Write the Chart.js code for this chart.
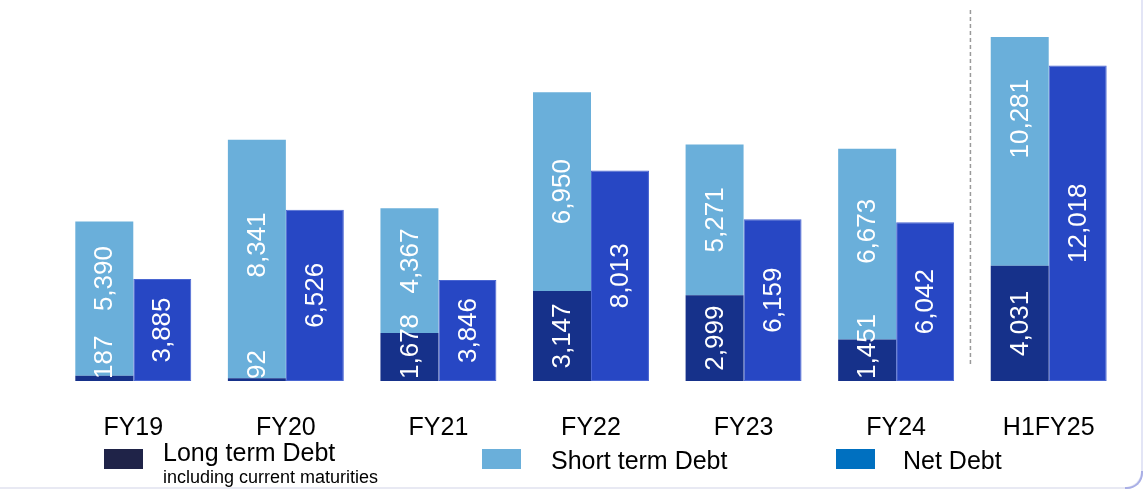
<!DOCTYPE html>
<html>
<head>
<meta charset="utf-8">
<script src="https://cdn.jsdelivr.net/npm/chart.js@4/dist/chart.umd.min.js"></script>
<style>
  html, body { margin:0; padding:0; background:#fff; }
  body { width:1143px; height:489px; position:relative; overflow:hidden; font-family:"Liberation Sans", Arial, sans-serif; }
  #wrap { position:absolute; left:0; top:0; width:1143px; height:489px; }
  .frame { position:absolute; left:-20px; top:-20px; width:1163px; height:509px; box-sizing:border-box;
           border:2px solid #e9ebf7; border-right-color:#e3e5f6; border-bottom-color:#e8e9f3; border-radius:18px; }
  .corner { position:absolute; right:0; bottom:0; width:18px; height:18px; box-sizing:border-box;
            border-right:2px solid #a9afe6; border-bottom:2px solid #a9afe6; border-bottom-right-radius:16px; }
  .sw { position:absolute; width:39px; height:20px; }
  .lt { position:absolute; color:#000; white-space:nowrap; line-height:1; }
</style>
</head>
<body>
<div class="frame"></div>
<div class="corner"></div>
<div id="wrap"><canvas id="c" width="1143" height="489"></canvas></div>

<div class="sw" style="left:104px;top:449px;background:#1F2348"></div>
<div class="lt" style="left:163px;top:440px;font-size:25px">Long term Debt</div>
<div class="lt" style="left:163px;top:468px;font-size:18px">including current maturities</div>

<div class="sw" style="left:482px;top:449px;background:#6AAFDA"></div>
<div class="lt" style="left:551px;top:448px;font-size:25px">Short term Debt</div>

<div class="sw" style="left:836px;top:449px;background:#0070C0"></div>
<div class="lt" style="left:903px;top:448px;font-size:25px">Net Debt</div>

<script>
const categories = ['FY19', 'FY20', 'FY21', 'FY22', 'FY23', 'FY24', 'H1FY25'];
const longTermDebt = [187, 92, 1678, 3147, 2999, 1451, 4031];
const shortTermDebt = [5390, 8341, 4367, 6950, 5271, 6673, 10281];
const netDebt = [3885, 6526, 3846, 8013, 6159, 6042, 12018];
const seriesNames = ['Long term Debt', 'Short term Debt', 'Net Debt'];

const FONT = '"Liberation Sans", Arial, sans-serif';

const valueLabels = {
  id: 'valueLabels',
  afterDatasetsDraw(chart) {
    const ctx = chart.ctx;
    ctx.save();
    ctx.font = '26px ' + FONT;
    ctx.fillStyle = '#ffffff';
    ctx.textAlign = 'center';
    ctx.textBaseline = 'middle';
    const ltTop = [];
    chart.data.datasets.forEach((ds, i) => {
      const meta = chart.getDatasetMeta(i);
      meta.data.forEach((el, j) => {
        const v = ds.data[j];
        const txt = v.toLocaleString('en-US');
        const w = ctx.measureText(txt).width;
        let cy = (el.y + el.base) / 2;
        if (i === 0) {
          cy = Math.min(cy, el.base - w / 2 - 2);
          ltTop[j] = cy - w / 2;
        } else if (i === 1) {
          cy = (el.y + Math.min(el.base, ltTop[j])) / 2;
        }
        ctx.save();
        ctx.translate(el.x + 1, cy);
        ctx.rotate(-Math.PI / 2);
        ctx.fillText(txt, 0, 0);
        ctx.restore();
      });
    });
    ctx.restore();
  }
};

const divider = {
  id: 'divider',
  afterDatasetsDraw(chart) {
    const xs = chart.scales.x;
    const n = categories.length;
    const xp = (xs.getPixelForValue(n - 2) + xs.getPixelForValue(n - 1)) / 2 - 2;
    const ctx = chart.ctx;
    ctx.save();
    ctx.strokeStyle = '#9a9a9a';
    ctx.lineWidth = 1.5;
    ctx.setLineDash([4, 3]);
    ctx.beginPath();
    ctx.moveTo(xp, 10);
    ctx.lineTo(xp, 367);
    ctx.stroke();
    ctx.restore();
  }
};

new Chart(document.getElementById('c'), {
  type: 'bar',
  data: {
    labels: categories,
    datasets: [
      { label: seriesNames[0], data: longTermDebt, backgroundColor: '#16318A', stack: 'debt', yAxisID: 'y' },
      { label: seriesNames[1], data: shortTermDebt, backgroundColor: '#6AAFDA', stack: 'debt', yAxisID: 'y' },
      { label: seriesNames[2], data: netDebt, backgroundColor: '#2747C4', borderColor: '#4a66d2', borderWidth: 1, borderSkipped: false, stack: 'net', yAxisID: 'y2' }
    ]
  },
  options: {
    responsive: false,
    animation: false,
    events: [],
    categoryPercentage: 0.76,
    barPercentage: 1.0,
    layout: { padding: { left: 57, right: 18, top: 37, bottom: 22 } },
    plugins: { legend: { display: false }, tooltip: { enabled: false } },
    scales: {
      x: {
        stacked: true,
        grid: { display: false },
        border: { display: false },
        ticks: { color: '#000', font: { family: FONT, size: 25 }, padding: 24, maxRotation: 0 }
      },
      y: { stacked: true, display: false, min: 0, max: 12030 },
      y2: { stacked: true, display: false, min: 0, max: 13100 }
    }
  },
  plugins: [valueLabels, divider]
});
</script>
</body>
</html>
